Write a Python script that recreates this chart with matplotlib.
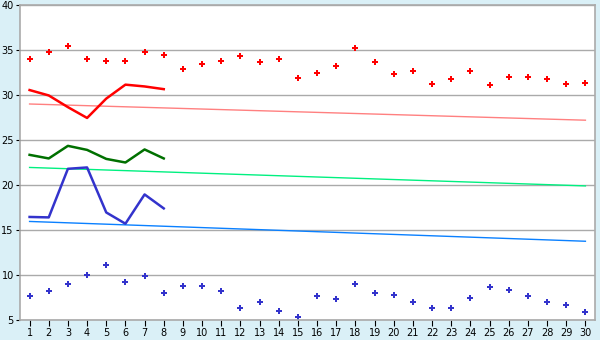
import matplotlib.pyplot as plt

days = list(range(1, 31))

# scatter values (top red, bottom blue)
red_pts = [34.0, 34.75, 35.4, 34.05, 33.75, 33.75, 34.75, 34.4, 32.85, 33.5,
           33.75, 34.3, 33.65, 33.95, 31.85, 32.5, 33.2, 35.2, 33.65, 32.3,
           32.65, 31.2, 31.75, 32.65, 31.1, 32.05, 32.05, 31.75, 31.2, 31.3]
blue_pts = [7.65, 8.2, 8.95, 10.0, 11.1, 9.2, 9.85, 7.95, 8.75, 8.75,
            8.2, 6.3, 6.95, 5.95, 5.3, 7.65, 7.3, 8.95, 7.95, 7.75,
            7.05, 6.3, 6.3, 7.5, 8.65, 8.3, 7.65, 7.05, 6.65, 5.85]

# short lines for the first 8 days
line_days = list(range(1, 9))
red_line = [30.55, 29.95, 28.65, 27.45, 29.6, 31.15, 30.95, 30.65]
green_line = [23.35, 22.95, 24.35, 23.9, 22.9, 22.5, 23.95, 22.95]
blue_line = [16.45, 16.4, 21.8, 21.95, 16.95, 15.7, 18.95, 17.4]

# trend lines, start and end values (day 1 and day 30)
trend_days = [1, 30]
red_trend = [29.0, 27.2]
green_trend = [21.95, 19.9]
blue_trend = [15.95, 13.75]

bg = '#DAF0F7'
fig = plt.figure(figsize=(6, 3.4), dpi=100, facecolor=bg)
ax = fig.add_axes([20 / 600, 20 / 340, 575 / 600, 315 / 340])
ax.set_facecolor('white')

ax.plot(trend_days, red_trend, color='#FF8080', lw=1)
ax.plot(trend_days, green_trend, color='#00F080', lw=1)
ax.plot(trend_days, blue_trend, color='#0A80FF', lw=1)

ax.plot(line_days, red_line, color='#FF0000', lw=1.8)
ax.plot(line_days, green_line, color='#007000', lw=1.8)
ax.plot(line_days, blue_line, color='#3333CC', lw=1.8)

ax.plot(days, red_pts, ls='none', marker='P', ms=4.5, color='#FF0000', mew=0)
ax.plot(days, blue_pts, ls='none', marker='P', ms=4.5, color='#3333CC', mew=0)

ax.set_xlim(0.5, 30.5)
ax.set_ylim(5, 40)
ax.set_xticks(days)
ax.set_yticks(range(5, 41, 5))
ax.tick_params(labelsize=7, length=3, color='black', pad=1.5)
ax.tick_params(axis='x', length=4, pad=2)
ax.grid(axis='y', color='#AAAAAA', lw=1)
ax.set_axisbelow(True)
for s in ax.spines.values():
    s.set_color('#AAAAAA')
    s.set_linewidth(1.2)

fig.savefig('out.png', dpi=100, facecolor=bg)
